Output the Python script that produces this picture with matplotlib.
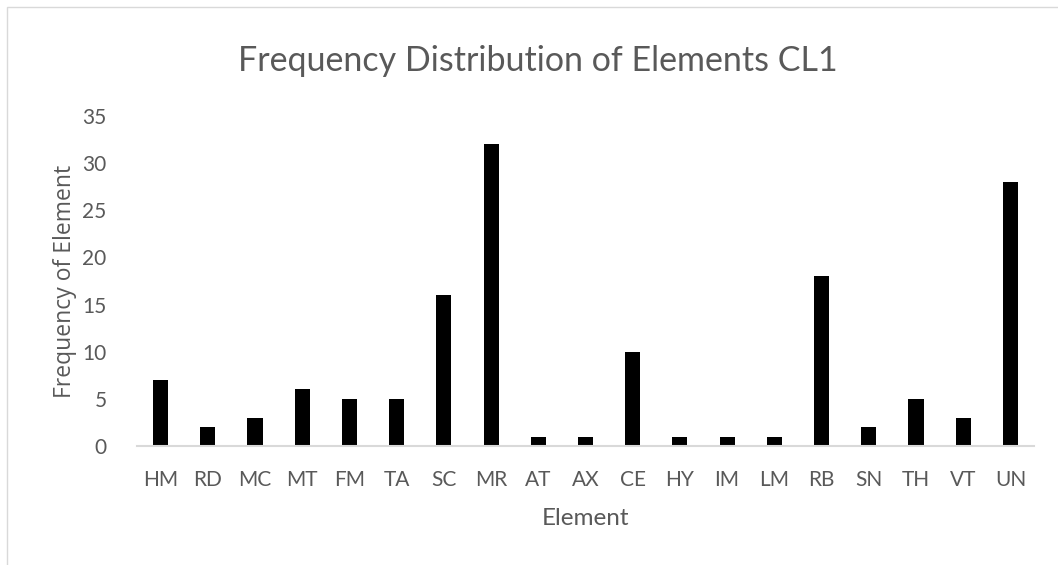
import matplotlib.pyplot as plt
from matplotlib.patches import Rectangle
import numpy as np

elements = ["HM", "RD", "MC", "MT", "FM", "TA", "SC", "MR", "AT", "AX",
            "CE", "HY", "IM", "LM", "RB", "SN", "TH", "VT", "UN"]
frequency = [7, 2, 3, 6, 5, 5, 16, 32, 1, 1, 10, 1, 1, 1, 18, 2, 5, 3, 28]
y_ticks = [0, 5, 10, 15, 20, 25, 30, 35]

text_color = "#595959"
plt.rcParams["font.family"] = ["Lato", "DejaVu Sans"]

fig = plt.figure(figsize=(10.58, 5.65), dpi=100)
ax = fig.add_axes([0.1295, 0.2106, 0.8478, 0.5841])

x = np.arange(len(elements))
ax.bar(x, frequency, width=0.32, color="black")

ax.set_xlim(-0.5, len(elements) - 0.5)
ax.set_ylim(0, 35)
ax.set_xticks(x)
ax.set_xticklabels(elements)
ax.set_yticks(y_ticks)
ax.tick_params(axis="both", length=0, labelsize=15, labelcolor=text_color)
ax.tick_params(axis="x", pad=17)
ax.tick_params(axis="y", pad=22)

for side in ["top", "right", "left"]:
    ax.spines[side].set_visible(False)
ax.spines["bottom"].set_color("#d9d9d9")
ax.spines["bottom"].set_linewidth(1.5)

ax.set_xlabel("Element", fontsize=17.5, color=text_color, labelpad=13)
ax.set_ylabel("Frequency of Element", fontsize=16.5, color=text_color,
              family=["Open Sans", "DejaVu Sans"], labelpad=4)
fig.text(0.508, 0.892, "Frequency Distribution of Elements CL1", fontsize=24.5,
         color=text_color, ha="center", va="center")

# thin chart border
fig.patches.append(Rectangle((7 / 1058, -0.01), 1.1, 1 - 7 / 565 + 0.01,
                             transform=fig.transFigure, fill=False,
                             edgecolor="#d9d9d9", linewidth=1))

fig.savefig("out.png", dpi=100)
